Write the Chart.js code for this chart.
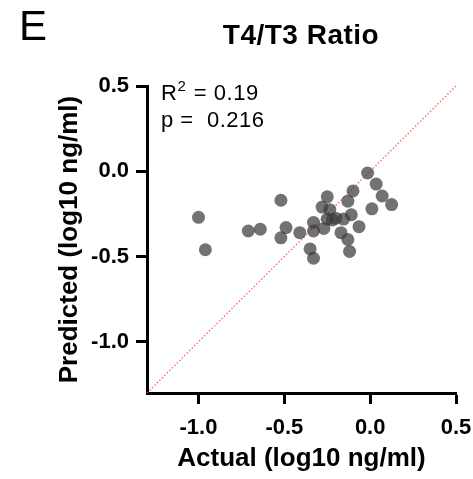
<!DOCTYPE html>
<html>
<head>
<meta charset="utf-8">
<script src="https://cdn.jsdelivr.net/npm/chart.js@4/dist/chart.umd.min.js"></script>
<style>
  html, body { margin: 0; padding: 0; background: #fff; }
  #wrap { width: 473px; height: 479px; position: relative; }
</style>
</head>
<body>
<div id="wrap"><canvas id="chart" width="473" height="479"></canvas></div>
<script>
// Scatter of predicted vs actual T4/T3 ratio (log10 ng/ml)
const actual = [-1.00, -0.96, -0.71, -0.64, -0.52, -0.49, -0.52, -0.41, -0.35, -0.33,
    -0.33, -0.33, -0.28, -0.25, -0.235, -0.27, -0.25, -0.22, -0.20, -0.155,
    -0.13, -0.10, -0.11, -0.17, -0.13, -0.12, -0.065, -0.015, 0.035, 0.07,
    0.01, 0.125];
const predicted = [-0.27, -0.46, -0.35, -0.34, -0.17, -0.33, -0.39, -0.36, -0.455, -0.51,
    -0.35, -0.30, -0.21, -0.15, -0.225, -0.335, -0.28, -0.285, -0.275, -0.28,
    -0.175, -0.115, -0.255, -0.36, -0.40, -0.47, -0.325, -0.01, -0.075, -0.145,
    -0.22, -0.195];
const identityLine = [-1.3, 0.5];
const tickValues = [-1.0, -0.5, 0.0, 0.5];
const axisMin = -1.3;
const axisMax = 0.5;
const panelLetter = 'E';
const chartTitle = 'T4/T3 Ratio';
const statsLines = ['R', ' = 0.19', 'p =  0.216'];

const FONT = 'Arial, "Liberation Sans", sans-serif';

// extra text: panel letter, title, R² / p annotation
const annotations = {
    id: 'annotations',
    afterDraw(chart) {
        const ctx = chart.ctx;
        ctx.save();
        ctx.fillStyle = '#000';
        ctx.textBaseline = 'alphabetic';

        ctx.font = '42px ' + FONT;
        ctx.textAlign = 'left';
        ctx.fillText(panelLetter, 19, 40);

        ctx.font = 'bold 28px ' + FONT;
        ctx.textAlign = 'center';
        ctx.letterSpacing = '0.5px';
        ctx.fillText(chartTitle, 301, 44);

        ctx.textAlign = 'left';
        ctx.font = '22px ' + FONT;
        const x0 = 161;
        ctx.fillText(statsLines[0], x0, 100);
        const rw = ctx.measureText(statsLines[0]).width;
        ctx.font = '15px ' + FONT;
        ctx.fillText('2', x0 + rw, 91);
        const sw = ctx.measureText('2').width;
        ctx.font = '22px ' + FONT;
        ctx.fillText(statsLines[1], x0 + rw + sw + 1, 100);
        ctx.fillText(statsLines[2], x0, 127);
        ctx.restore();
    }
};

const fixedTicks = scale => {
    scale.ticks = tickValues.map(v => ({ value: v }));
};

new Chart(document.getElementById('chart').getContext('2d'), {
    type: 'scatter',
    data: {
        datasets: [{
            type: 'line',
            data: identityLine.map(v => ({ x: v, y: v })),
            borderColor: 'rgba(255, 70, 70, 0.85)',
            backgroundColor: 'rgba(255, 70, 70, 0.85)',
            borderWidth: 1.3,
            borderDash: [1.5, 2],
            pointRadius: 0,
            showLine: true,
            fill: false,
            order: 2
        }, {
            data: actual.map((a, i) => ({ x: a, y: predicted[i] })),
            backgroundColor: 'rgba(60, 60, 60, 0.72)',
            borderColor: 'rgba(60, 60, 60, 0.72)',
            borderWidth: 0,
            pointRadius: 6.5,
            order: 1
        }]
    },
    options: {
        responsive: false,
        animation: false,
        clip: false,
        layout: {
            padding: { left: 50, top: 86, right: 17, bottom: 1 }
        },
        plugins: {
            legend: { display: false },
            tooltip: { enabled: false }
        },
        scales: {
            x: {
                type: 'linear',
                min: axisMin,
                max: axisMax,
                afterBuildTicks: fixedTicks,
                afterFit: s => {
                    s.height = 85;
                    s.paddingLeft = 0;
                    s.paddingRight = 0;
                },
                border: { display: true, color: '#000', width: 3 },
                grid: {
                    drawOnChartArea: false,
                    drawTicks: true,
                    tickLength: 11,
                    tickWidth: 3,
                    tickColor: '#000'
                },
                ticks: {
                    color: '#000',
                    padding: 11,
                    maxRotation: 0,
                    font: { family: FONT, size: 22, weight: 'bold' },
                    callback: v => v.toFixed(1)
                },
                title: {
                    display: true,
                    text: 'Actual (log10 ng/ml)',
                    color: '#000',
                    font: { family: FONT, size: 26, weight: 'bold' }
                }
            },
            y: {
                type: 'linear',
                min: axisMin,
                max: axisMax,
                afterBuildTicks: fixedTicks,
                afterFit: s => { s.width = 97; },
                border: { display: true, color: '#000', width: 3 },
                grid: {
                    drawOnChartArea: false,
                    drawTicks: true,
                    tickLength: 11,
                    tickWidth: 3,
                    tickColor: '#000'
                },
                ticks: {
                    color: '#000',
                    padding: 7,
                    font: { family: FONT, size: 22, weight: 'bold' },
                    callback: v => v.toFixed(1)
                },
                title: {
                    display: true,
                    text: 'Predicted (log10 ng/ml)',
                    color: '#000',
                    font: { family: FONT, size: 26, weight: 'bold' }
                }
            }
        }
    },
    plugins: [annotations]
});
</script>
</body>
</html>
